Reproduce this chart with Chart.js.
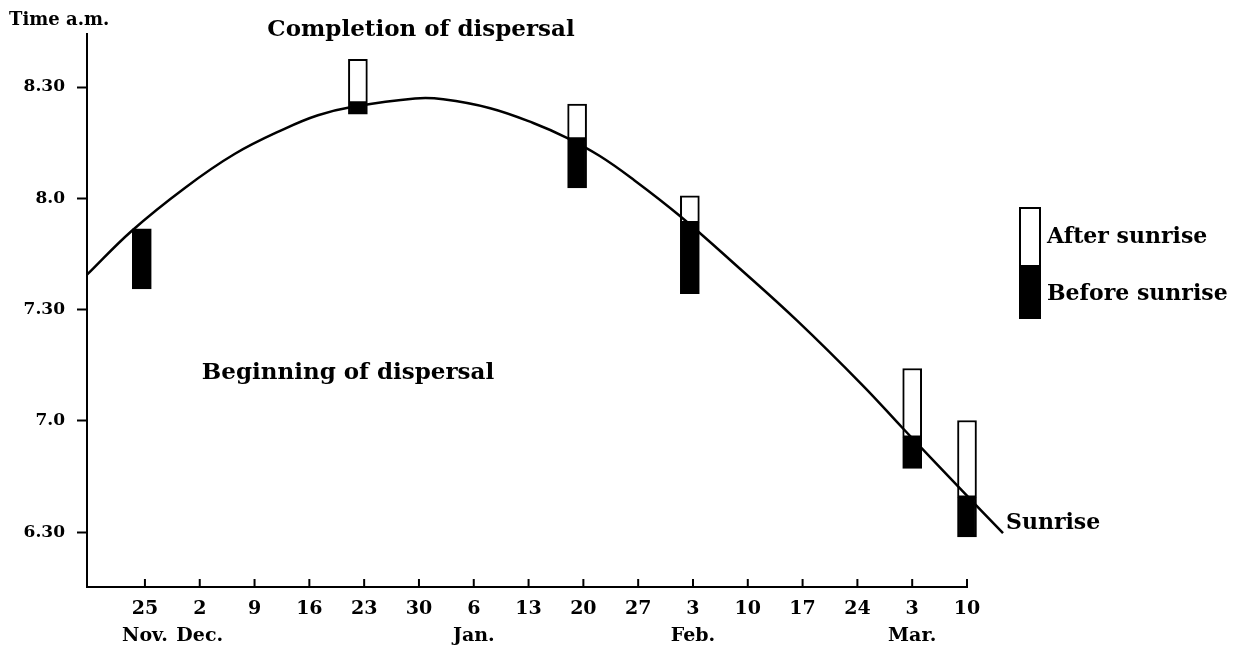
<!DOCTYPE html>
<html>
<head>
<meta charset="utf-8">
<script src="https://cdn.jsdelivr.net/npm/chart.js@4/dist/chart.umd.min.js"></script>
<style>
html, body { margin: 0; padding: 0; background: #fff; }
</style>
</head>
<body>
<canvas id="myChart" width="1246" height="650"></canvas>
<script>
// x = days counted from 25 Nov, y = minutes after 6.00 a.m.
var weekDays = [0, 7, 14, 21, 28, 35, 42, 49, 56, 63, 70, 77, 84, 91, 98, 105];
var weekLabels = ['25', '2', '9', '16', '23', '30', '6', '13', '20', '27', '3', '10', '17', '24', '3', '10'];
var monthDays = [0, 7, 42, 70, 98];
var monthLabels = ['Nov.', 'Dec.', 'Jan.', 'Feb.', 'Mar.'];
var timeTicks = [30, 60, 90, 120, 150];
var timeLabels = ['6.30', '7.0', '7.30', '8.0', '8.30'];

// sunrise curve
var sunriseDays = [-7.4, -1.7, 5.1, 11.5, 17.9, 22.1, 26.4, 34.5, 38.1, 44.1, 49.6, 53.9, 58.1, 62.3, 68.3, 76.0, 83.3, 91.7, 96.8, 104.1, 109.6];
var sunriseMins = [99.4, 111.2, 122.8, 132.0, 138.8, 142.4, 144.6, 146.9, 146.7, 144.3, 140.3, 136.3, 131.4, 125.2, 115.3, 101.0, 87.0, 69.5, 58.0, 41.8, 29.7];

// observations: beginning of dispersal, sunrise, completion of dispersal
var obsDays = [-0.4, 27.2, 55.2, 69.6, 98, 105];
var startMins = [95.6, 142.7, 122.8, 94.3, 47.2, 28.7];
var sunMins = [111.8, 145.7, 136.0, 113.4, 55.6, 39.4];
var endMins = [111.8, 157.5, 145.4, 120.7, 74.1, 60.1];

var FONT = '"DejaVu Serif", "Liberation Serif", serif';

var beforeData = [];
var afterData = [];
for (var i = 0; i < obsDays.length; i++) {
    beforeData.push({x: obsDays[i], y: [startMins[i], sunMins[i]]});
    if (endMins[i] > sunMins[i]) {
        afterData.push({x: obsDays[i], y: [sunMins[i], endMins[i]]});
    }
}
var sunriseData = sunriseDays.map(function(d, k){ return {x: d, y: sunriseMins[k]}; });

var extras = {
    id: 'extras',
    afterDraw: function(chart){
        var c = chart.ctx;
        var xs = chart.scales.x;
        var ys = chart.scales.y;
        c.save();
        // small tick marks pointing up from the x axis
        c.strokeStyle = '#000';
        c.lineWidth = 2;
        weekDays.forEach(function(d){
            var px = xs.getPixelForValue(d);
            c.beginPath();
            c.moveTo(px, ys.bottom);
            c.lineTo(px, ys.bottom - 8);
            c.stroke();
        });

        c.fillStyle = '#000';
        c.textBaseline = 'middle';
        c.font = 'bold 18px ' + FONT;
        c.textAlign = 'left';
        c.fillText('Time a.m.', 9, 20);

        c.font = 'bold 23px ' + FONT;
        c.textAlign = 'center';
        c.fillText('Completion of dispersal', 421, 30);
        c.fillText('Beginning of dispersal', 348, 373);
        c.font = 'bold 22px ' + FONT;
        c.textAlign = 'left';
        c.fillText('Sunrise', 1006, 523);

        // month names under the day numbers
        c.font = 'bold 19px ' + FONT;
        c.textAlign = 'center';
        monthDays.forEach(function(d, k){
            c.fillText(monthLabels[k], xs.getPixelForValue(d), 636);
        });

        // key
        c.lineWidth = 2;
        c.fillStyle = '#fff';
        c.fillRect(1020, 208, 20, 57);
        c.strokeRect(1020, 208, 20, 110);
        c.fillStyle = '#000';
        c.fillRect(1020, 265, 20, 53);
        c.font = 'bold 22px ' + FONT;
        c.textAlign = 'left';
        c.fillText('After sunrise', 1047, 237);
        c.fillText('Before sunrise', 1047, 294);
        c.restore();
    }
};

var ctx = document.getElementById('myChart').getContext('2d');
var chart = new Chart(ctx, {
    type: 'bar',
    data: {
        datasets: [{
            type: 'line',
            label: 'Sunrise',
            data: sunriseData,
            borderColor: '#000',
            borderWidth: 2.5,
            pointRadius: 0,
            fill: false,
            tension: 0.4,
            clip: false,
            order: 0
        }, {
            label: 'Before sunrise',
            data: beforeData,
            backgroundColor: '#000',
            borderColor: '#000',
            borderWidth: 2,
            borderSkipped: false,
            barThickness: 19,
            grouped: false,
            clip: false,
            order: 1
        }, {
            label: 'After sunrise',
            data: afterData,
            backgroundColor: '#fff',
            borderColor: '#000',
            borderWidth: 2,
            borderSkipped: false,
            barThickness: 19,
            grouped: false,
            clip: false,
            order: 1
        }]
    },
    options: {
        responsive: false,
        animation: false,
        devicePixelRatio: 1,
        layout: { padding: { top: 34, right: 279, left: 0, bottom: 0 } },
        plugins: { legend: { display: false }, tooltip: { enabled: false } },
        scales: {
            x: {
                type: 'linear',
                min: -7.4,
                max: 105,
                offset: false,
                afterBuildTicks: function(scale){
                    scale.ticks = weekDays.map(function(v){ return {value: v}; });
                },
                afterFit: function(scale){ scale.height = 63; },
                grid: { display: false, offset: false },
                border: { display: true, color: '#000', width: 2 },
                ticks: {
                    autoSkip: false,
                    maxRotation: 0,
                    padding: 3,
                    color: '#000',
                    font: { family: FONT, size: 19, weight: 'bold' },
                    callback: function(v){
                        var k = weekDays.indexOf(v);
                        return k < 0 ? '' : weekLabels[k];
                    }
                }
            },
            y: {
                min: 15.2,
                max: 164.3,
                afterBuildTicks: function(scale){
                    scale.ticks = timeTicks.map(function(v){ return {value: v}; });
                },
                afterFit: function(scale){ scale.width = 87; },
                grid: { drawOnChartArea: false, drawTicks: true, tickLength: 10, tickWidth: 2, tickColor: '#000' },
                border: { display: true, color: '#000', width: 2 },
                ticks: {
                    padding: 12,
                    color: '#000',
                    font: { family: FONT, size: 17, weight: 'bold' },
                    callback: function(v){
                        var k = timeTicks.indexOf(v);
                        return k < 0 ? '' : timeLabels[k];
                    }
                }
            }
        }
    },
    plugins: [extras]
});
</script>
</body>
</html>
